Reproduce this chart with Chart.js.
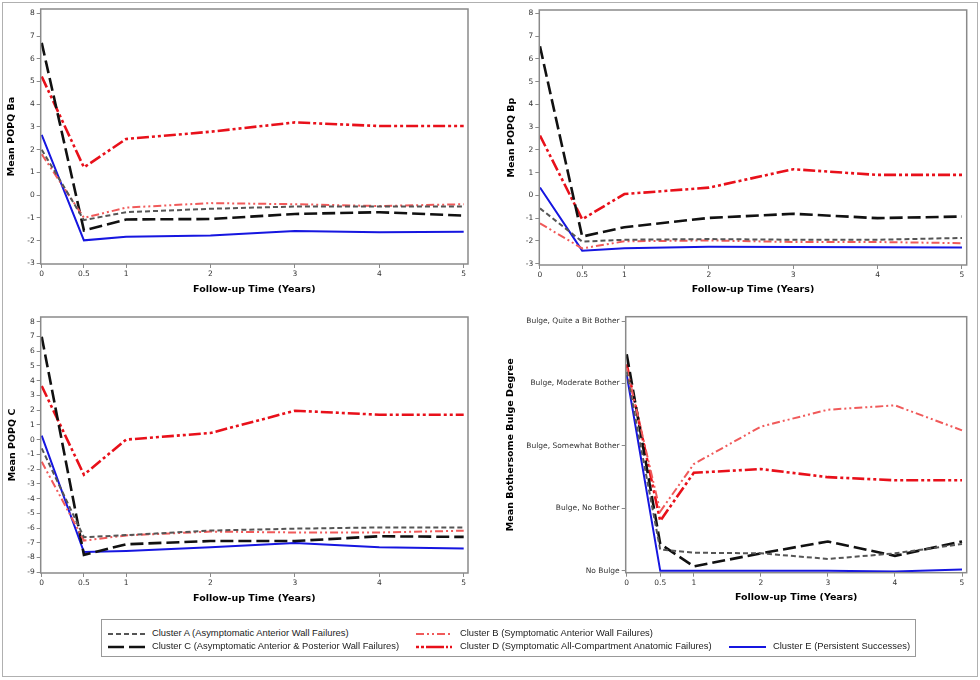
<!DOCTYPE html>
<html>
<head>
<meta charset="utf-8">
<script src="https://cdn.jsdelivr.net/npm/chart.js@4.4.1/dist/chart.umd.min.js"></script>
<style>
  body { margin: 0; background: #fff; }
  #page { position: relative; width: 980px; height: 680px; }
  #frame { position: absolute; left: 2px; top: 2px; width: 974px; height: 673px; border: 1px solid #b0b0b0; }
  canvas.panel { position: absolute; }
  #legend { position: absolute; left: 101px; top: 619px; width: 813px; height: 36px; border: 1px solid #999; font-family: "Liberation Sans", Arial, sans-serif; font-size: 9.4px; color: #222; }
  .item { position: absolute; white-space: nowrap; line-height: 12px; }
  .item canvas { vertical-align: middle; margin-right: 7px; }
</style>
</head>
<body>
<div id="page">
  <div id="frame"></div>
  <canvas id="cBa" class="panel" width="490" height="310" style="left:0;top:0"></canvas>
  <canvas id="cBp" class="panel" width="490" height="310" style="left:490px;top:0"></canvas>
  <canvas id="cC" class="panel" width="490" height="305" style="left:0;top:310px"></canvas>
  <canvas id="cBulge" class="panel" width="490" height="305" style="left:490px;top:310px"></canvas>
  <div id="legend"></div>
</div>
<script>
// follow-up times (years)
const years = [0, 0.5, 1, 2, 3, 4, 5];
const xTicks = [0, 0.5, 1, 2, 3, 4, 5];

const clusterNames = [
  'Cluster A (Asymptomatic Anterior Wall Failures)',
  'Cluster B (Symptomatic Anterior Wall Failures)',
  'Cluster C (Asymptomatic Anterior & Posterior Wall Failures)',
  'Cluster D (Symptomatic All-Compartment Anatomic Failures)',
  'Cluster E (Persistent Successes)'
];

// Mean POPQ Ba
const baA = [2.0, -1.1, -0.75, -0.6, -0.5, -0.5, -0.5];
const baB = [1.8, -1.0, -0.55, -0.35, -0.4, -0.48, -0.4];
const baC = [6.7, -1.55, -1.07, -1.05, -0.83, -0.75, -0.9];
const baD = [5.22, 1.22, 2.47, 2.79, 3.2, 3.04, 3.04];
const baE = [2.65, -1.99, -1.83, -1.78, -1.58, -1.63, -1.61];

// Mean POPQ Bp
const bpA = [-0.57, -2.03, -1.95, -1.92, -1.95, -1.95, -1.87];
const bpB = [-1.23, -2.33, -2.02, -1.98, -2.05, -2.05, -2.1];
const bpC = [6.55, -1.81, -1.4, -0.99, -0.81, -1.0, -0.93];
const bpD = [2.63, -1.05, 0.06, 0.34, 1.15, 0.9, 0.9];
const bpE = [0.35, -2.43, -2.32, -2.26, -2.27, -2.28, -2.29];

// Mean POPQ C
const cA = [-0.59, -6.62, -6.48, -6.17, -6.04, -5.96, -5.96];
const cB = [-1.5, -6.85, -6.5, -6.24, -6.3, -6.3, -6.18];
const cC = [6.98, -7.82, -7.1, -6.88, -6.88, -6.56, -6.6];
const cD = [3.64, -2.38, 0.0, 0.45, 1.96, 1.69, 1.69];
const cE = [0.27, -7.63, -7.56, -7.3, -7.02, -7.3, -7.39];

// Mean bothersome bulge degree (0 = No Bulge ... 4 = Quite a Bit Bother)
const bulgeLabels = ['No Bulge', 'Bulge, No Bother', 'Bulge, Somewhat Bother', 'Bulge, Moderate Bother', 'Bulge, Quite a Bit Bother'];
const bulgeA = [3.19, 0.34, 0.29, 0.28, 0.19, 0.28, 0.43];
const bulgeB = [3.25, 0.95, 1.71, 2.31, 2.58, 2.65, 2.25];
const bulgeC = [3.47, 0.43, 0.07, 0.28, 0.47, 0.24, 0.47];
const bulgeD = [3.31, 0.8, 1.57, 1.63, 1.5, 1.45, 1.45];
const bulgeE = [3.14, 0.0, 0.0, 0.0, 0.0, -0.01, 0.02];

const styles = [
  { color: '#555555', width: 2, dash: [5, 3] },
  { color: '#f05a5a', width: 2, dash: [8, 3, 2, 3, 2, 3] },
  { color: '#111111', width: 2.6, dash: [13, 5] },
  { color: '#e8101a', width: 2.6, dash: [12, 3, 3, 3, 3, 3] },
  { color: '#1616e0', width: 2, dash: [] }
];
// legend samples drawn a little differently from the plot lines
const legendDash = [[5, 3], [8, 3, 2, 3, 2, 3], [16, 5], [3, 2, 3, 2, 18, 2, 2, 2, 2], []];

const boxPlugin = {
  id: 'box',
  afterDraw(chart) {
    const a = chart.chartArea, ctx = chart.ctx;
    ctx.save();
    ctx.strokeStyle = '#8a8a8a';
    ctx.lineWidth = 1.5;
    ctx.strokeRect(a.left, a.top, a.right - a.left, a.bottom - a.top);
    ctx.restore();
  }
};

const tickFont = { family: 'DejaVu Sans', size: 7.5 };
const titleFont = { family: 'DejaVu Sans', size: 9.5, weight: 'bold' };

function makeChart(id, series, cfg) {
  const datasets = series.map((vals, i) => ({
    label: clusterNames[i],
    data: vals.map((v, j) => ({ x: years[j], y: v })),
    borderColor: styles[i].color,
    borderWidth: styles[i].width,
    borderDash: styles[i].dash,
    pointRadius: 0,
    tension: 0,
    fill: false
  }));
  return new Chart(document.getElementById(id), {
    type: 'line',
    data: { datasets },
    plugins: [boxPlugin],
    options: {
      responsive: false,
      animation: false,
      layout: { padding: cfg.pad },
      plugins: { legend: { display: false }, tooltip: { enabled: false } },
      scales: {
        x: {
          type: 'linear',
          min: cfg.xMin, max: cfg.xMax,
          afterBuildTicks: s => { s.ticks = xTicks.map(v => ({ value: v })); },
          afterFit: s => { s.height = cfg.xH; },
          border: { display: false },
          grid: { drawOnChartArea: false, tickLength: 4, color: '#8a8a8a' },
          ticks: { font: tickFont, color: '#333', padding: 2, maxRotation: 0, autoSkip: false, callback: v => String(v) },
          title: { display: true, text: 'Follow-up Time (Years)', font: titleFont, color: '#000', padding: { top: 0, bottom: cfg.xTitlePad } }
        },
        y: {
          type: 'linear',
          min: cfg.yMin, max: cfg.yMax,
          afterBuildTicks: s => { s.ticks = cfg.yTicks.map(v => ({ value: v })); },
          afterFit: s => { s.width = cfg.yW; },
          border: { display: false },
          grid: { drawOnChartArea: false, tickLength: 4, color: '#8a8a8a' },
          ticks: { font: tickFont, color: '#333', padding: 2, autoSkip: false, callback: cfg.yLabel || (v => String(v)) },
          title: { display: true, text: cfg.yTitle, font: titleFont, color: '#000', padding: { top: cfg.yTitlePad, bottom: 0 } }
        }
      }
    }
  });
}

const ticks3to8 = [-3, -2, -1, 0, 1, 2, 3, 4, 5, 6, 7, 8];
const ticks9to8 = [-9, -8, -7, -6, -5, -4, -3, -2, -1, 0, 1, 2, 3, 4, 5, 6, 7, 8];

makeChart('cBa', [baA, baB, baC, baD, baE], {
  pad: { top: 9, right: 22, left: 0, bottom: 0 },
  xMin: -0.012, xMax: 5.051, xH: 46, xTitlePad: 15,
  yMin: -3.03, yMax: 8.19, yW: 40.7, yTitlePad: 6.3,
  yTicks: ticks3to8, yTitle: 'Mean POPQ Ba'
});
makeChart('cBp', [bpA, bpB, bpC, bpD, bpE], {
  pad: { top: 10, right: 13.3, left: 0, bottom: 0 },
  xMin: -0.008, xMax: 5.056, xH: 45, xTitlePad: 14.3,
  yMin: -3.06, yMax: 8.15, yW: 49.3, yTitlePad: 15.7,
  yTicks: ticks3to8, yTitle: 'Mean POPQ Bp'
});
makeChart('cC', [cA, cB, cC, cD, cE], {
  pad: { top: 7, right: 22, left: 0, bottom: 0 },
  xMin: -0.012, xMax: 5.051, xH: 42, xTitlePad: 11,
  yMin: -9.05, yMax: 8.32, yW: 40.7, yTitlePad: 6.7,
  yTicks: ticks9to8, yTitle: 'Mean POPQ C'
});
makeChart('cBulge', [bulgeA, bulgeB, bulgeC, bulgeD, bulgeE], {
  pad: { top: 6.7, right: 13.3, left: 0, bottom: 0 },
  xMin: -0.015, xMax: 5.07, xH: 42.3, xTitlePad: 12,
  yMin: -0.03, yMax: 4.07, yW: 135.7, yTitlePad: 15.2,
  yTicks: [0, 1, 2, 3, 4], yTitle: 'Mean Bothersome Bulge Degree',
  yLabel: v => bulgeLabels[Math.round(v)]
});

// shared legend
const legendPos = [
  { left: 6, top: 7 },     // A
  { left: 314, top: 7 },   // B
  { left: 6, top: 20 },    // C
  { left: 314, top: 20 },  // D
  { left: 627, top: 20 }   // E
];
const legend = document.getElementById('legend');
clusterNames.forEach((name, i) => {
  const item = document.createElement('div');
  item.className = 'item';
  item.style.left = legendPos[i].left + 'px';
  item.style.top = legendPos[i].top + 'px';
  const c = document.createElement('canvas');
  c.width = 37; c.height = 6;
  const g = c.getContext('2d');
  g.strokeStyle = styles[i].color;
  g.lineWidth = styles[i].width;
  g.setLineDash(legendDash[i]);
  g.beginPath(); g.moveTo(0, 3); g.lineTo(37, 3); g.stroke();
  item.appendChild(c);
  item.appendChild(document.createTextNode(name));
  legend.appendChild(item);
});
</script>
</body>
</html>
